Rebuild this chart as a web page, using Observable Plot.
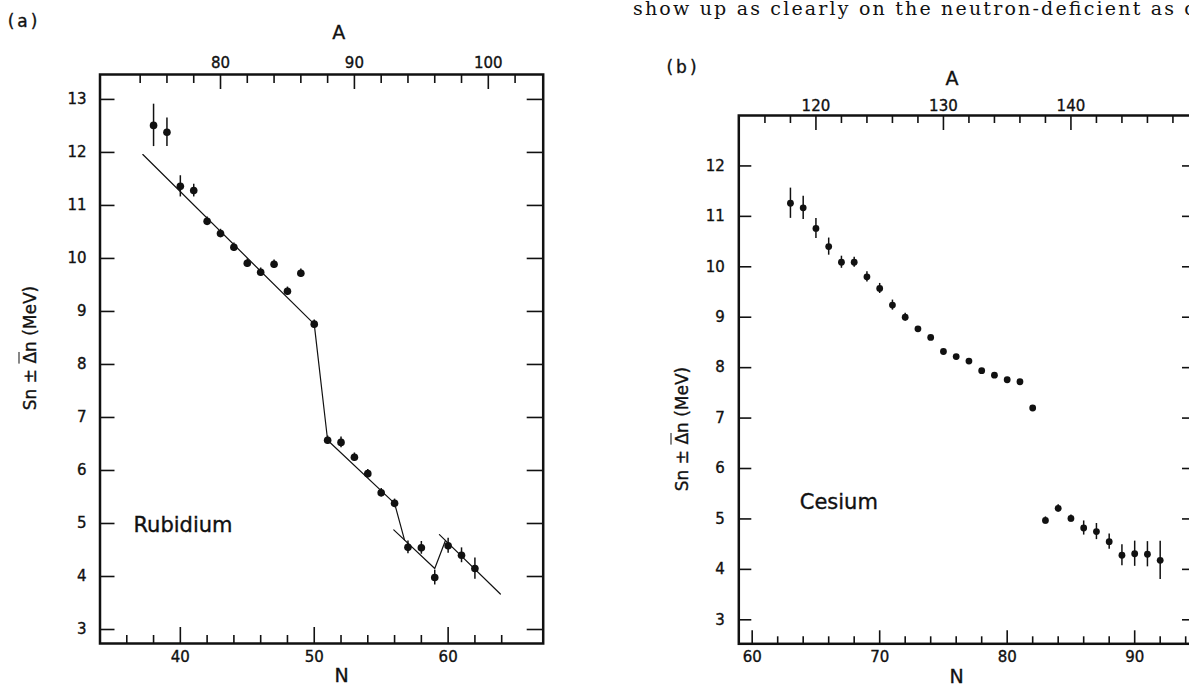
<!DOCTYPE html>
<html>
<head>
<meta charset="utf-8">
<script src="https://cdn.jsdelivr.net/npm/d3@7"></script>
<script src="https://cdn.jsdelivr.net/npm/@observablehq/plot@0.6"></script>
<style>
  html, body { margin: 0; padding: 0; background: #fff; }
  #page { position: relative; width: 1189px; height: 686px; overflow: hidden; background: #fff;
          font-family: "DejaVu Sans", sans-serif; color: #111; }
  #page svg.plot text { stroke: #111; stroke-width: 0.35px; }
  .lbl { position: absolute; white-space: nowrap; line-height: 1; transform: translate(-50%, -50%);
         -webkit-text-stroke: 0.35px #111; }
  .rot { transform: translate(-50%, -50%) rotate(-90deg); }
  .panel { position: absolute; top: 0; }
  .ov { text-decoration: overline; }
</style>
</head>
<body>
<div id="page"></div>
<script>
// ---- Rubidium (Z = 37): separation energies vs neutron number ----
const rbZ = 37;
const rbN   = [38, 39, 40, 41, 42, 43, 44, 45, 46, 47, 48, 49, 50, 51, 52, 53, 54, 55, 56, 57, 58, 59, 60, 61, 62];
const rbSn  = [12.51, 12.38, 11.36, 11.28, 10.70, 10.47, 10.21, 9.91, 9.74, 9.89, 9.38, 9.72, 8.76,
               6.57, 6.53, 6.25, 5.94, 5.58, 5.38, 4.55, 4.54, 3.98, 4.58, 4.40, 4.15];
const rbErr = [0.40, 0.27, 0.20, 0.12, 0.08, 0.08, 0.08, 0.08, 0.08, 0.08, 0.08, 0.08, 0.08,
               0.08, 0.10, 0.08, 0.08, 0.08, 0.08, 0.12, 0.12, 0.14, 0.14, 0.14, 0.20];

// guide lines drawn through the rubidium points (N, MeV)
const rbLineMain  = [[37.2, 11.96], [50, 8.76], [51, 6.57], [56, 5.38], [56.74, 4.69]];
const rbLineMid   = [[55.94, 4.88], [59, 4.15], [59.8, 4.68]];
const rbLineTail  = [[59.35, 4.79], [63.9, 3.67]];

// ---- Cesium (Z = 55) ----
const csZ = 55;
const csN   = [63, 64, 65, 66, 67, 68, 69, 70, 71, 72, 73, 74, 75, 76, 77, 78, 79, 80, 81, 82,
               83, 84, 85, 86, 87, 88, 89, 90, 91, 92];
const csSn  = [11.26, 11.17, 10.76, 10.40, 10.09, 10.09, 9.80, 9.57, 9.24, 9.00, 8.77, 8.60, 8.32, 8.22,
               8.13, 7.94, 7.85, 7.76, 7.72, 7.20, 4.97, 5.21, 5.01, 4.82, 4.75, 4.55, 4.28, 4.31, 4.30, 4.18];
const csErr = [0.30, 0.23, 0.20, 0.17, 0.12, 0.10, 0.10, 0.10, 0.10, 0.08, 0, 0, 0, 0,
               0, 0, 0, 0, 0, 0, 0.07, 0.07, 0.07, 0.14, 0.16, 0.15, 0.21, 0.25, 0.25, 0.38];

// ---- tick values ----
const rbYTicks   = [3, 4, 5, 6, 7, 8, 9, 10, 11, 12, 13];
const rbNMajor   = [40, 50, 60];
const rbNMinor   = [36, 38, 42, 44, 46, 48, 52, 54, 56, 58, 62, 64];
const rbAMajor   = [80, 90, 100];
const rbAMinor   = [74, 76, 78, 82, 84, 86, 88, 92, 94, 96, 98, 102];

const csYTicks   = [3, 4, 5, 6, 7, 8, 9, 10, 11, 12];
const csNMajor   = [60, 70, 80, 90];
const csNMinor   = [62, 64, 66, 68, 72, 74, 76, 78, 82, 84, 86, 88, 92, 94];
const csAMajor   = [120, 130, 140];
const csAMinor   = [116, 118, 122, 124, 126, 128, 132, 134, 136, 138, 142, 144, 146, 148];

const FONT = "DejaVu Sans, sans-serif";

function panel(cfg) {
  const iw = cfg.width - cfg.marginLeft - cfg.marginRight;
  const ih = cfg.height - cfg.marginTop - cfg.marginBottom;
  const rows = cfg.n.map((n, i) => ({n, sn: cfg.sn[i], err: cfg.err[i]}));
  const toN = a => a - cfg.Z;
  const plot = Plot.plot({
    width: cfg.width,
    height: cfg.height,
    marginLeft: cfg.marginLeft,
    marginRight: cfg.marginRight,
    marginTop: cfg.marginTop,
    marginBottom: cfg.marginBottom,
    x: {domain: cfg.xDomain},
    y: {domain: cfg.yDomain},
    style: {fontFamily: FONT, fontSize: "15px", color: "#111", background: "transparent", overflow: "visible"},
    marks: [
      // inward ticks on all four sides
      Plot.tickY(cfg.yTicks, {y: d => d, insetRight: iw - cfg.tick.left, strokeWidth: 1.6, stroke: "#111"}),
      Plot.tickY(cfg.yTicks, {y: d => d, insetLeft: iw - cfg.tick.right, strokeWidth: 1.6, stroke: "#111"}),
      Plot.tickX(cfg.nMajor, {x: d => d, insetTop: ih - cfg.tick.bottomMajor, strokeWidth: 1.6, stroke: "#111"}),
      Plot.tickX(cfg.nMinor, {x: d => d, insetTop: ih - cfg.tick.bottomMinor, strokeWidth: 1.6, stroke: "#111"}),
      Plot.tickX(cfg.aMajor.map(toN), {x: d => d, insetBottom: ih - cfg.tick.topMajor, strokeWidth: 1.6, stroke: "#111"}),
      Plot.tickX(cfg.aMinor.map(toN), {x: d => d, insetBottom: ih - cfg.tick.topMinor, strokeWidth: 1.6, stroke: "#111"}),
      Plot.axisY({anchor: "left", ticks: cfg.yTicks, tickSize: 0, tickPadding: cfg.pad.left, label: null, fill: "#111"}),
      Plot.axisX({anchor: "bottom", ticks: cfg.nMajor, tickSize: 0, tickPadding: cfg.pad.bottom, label: null, fill: "#111"}),
      Plot.axisX({anchor: "top", ticks: cfg.aMajor.map(toN), tickFormat: d => d + cfg.Z, tickSize: 0,
                  tickPadding: cfg.pad.top, label: null, fill: "#111"}),
      ...cfg.extra,
      // error bars and points
      Plot.ruleX(rows.filter(d => d.err > 0), {x: "n", y1: d => d.sn - d.err, y2: d => d.sn + d.err,
                                               strokeWidth: 1.5, stroke: "#111"}),
      Plot.dot(rows, {x: "n", y: "sn", r: cfg.r, fill: "#111", stroke: "none"}),
      Plot.text([cfg.name], {x: cfg.nameAt[0], y: cfg.nameAt[1], textAnchor: "start", lineAnchor: "bottom",
                             fontSize: 21, fill: "#111"}),
      Plot.frame({strokeWidth: 2.5, stroke: "#111"})
    ]
  });
  plot.classList.add("plot");
  return plot;
}

const lineMark = pts => Plot.line(pts, {x: d => d[0], y: d => d[1], stroke: "#111", strokeWidth: 1.2});

const rbPlot = panel({
  Z: rbZ, n: rbN, sn: rbSn, err: rbErr,
  width: 600, height: 686, marginLeft: 99.5, marginRight: 57.3, marginTop: 74, marginBottom: 43,
  xDomain: [34, 67.1], yDomain: [2.736, 13.47],
  yTicks: rbYTicks, nMajor: rbNMajor, nMinor: rbNMinor, aMajor: rbAMajor, aMinor: rbAMinor,
  tick: {left: 15, right: 16, bottomMajor: 16, bottomMinor: 8, topMajor: 15, topMinor: 9},
  pad: {left: 13.5, bottom: 8, top: 7},
  r: 3.8,
  name: "Rubidium", nameAt: [36.5, 4.84],
  extra: [lineMark(rbLineMain), lineMark(rbLineMid), lineMark(rbLineTail)]
});

const csPlot = panel({
  Z: csZ, n: csN, sn: csSn, err: csErr,
  width: 600, height: 686, marginLeft: 138.3, marginRight: 5, marginTop: 115, marginBottom: 42.7,
  xDomain: [58.95, 94.77], yDomain: [2.524, 13.0],
  yTicks: csYTicks, nMajor: csNMajor, nMinor: csNMinor, aMajor: csAMajor, aMinor: csAMinor,
  tick: {left: 13, right: 13, bottomMajor: 13, bottomMinor: 7, topMajor: 15, topMinor: 8},
  pad: {left: 14, bottom: 8, top: 5},
  r: 3.4,
  name: "Cesium", nameAt: [63.73, 5.20],
  extra: []
});

const page = document.getElementById("page");

function place(el, left) {
  el.classList.add("panel");
  el.style.left = left + "px";
  page.appendChild(el);
}
place(rbPlot, 0);
place(csPlot, 600);

function label(html, cx, cy, size, extraClass, style) {
  const d = document.createElement("div");
  d.className = "lbl" + (extraClass ? " " + extraClass : "");
  d.innerHTML = html;
  d.style.left = cx + "px";
  d.style.top = cy + "px";
  d.style.fontSize = size + "px";
  if (style) Object.assign(d.style, style);
  page.appendChild(d);
}

const yTitle = 'Sn ± <span class="ov">Δ</span>n (MeV)';
label("(a)", 24, 21, 17, "", {letterSpacing: "3px"});
label("A", 338.7, 31.7, 19);
label("N", 341.7, 675, 19);
label(yTitle, 30, 348, 17, "rot");

label("(b)", 683, 67, 17, "", {letterSpacing: "3px"});
label("A", 952, 77.5, 19);
label("N", 956.7, 676, 19);
label(yTitle, 682, 429, 17, "rot");

// running text of the surrounding page, cut at the right edge
const ns = "http://www.w3.org/2000/svg";
const txtSvg = document.createElementNS(ns, "svg");
txtSvg.setAttribute("width", 700);
txtSvg.setAttribute("height", 24);
txtSvg.style.position = "absolute";
txtSvg.style.left = "630px";
txtSvg.style.top = "0px";
const t = document.createElementNS(ns, "text");
t.setAttribute("x", 3);
t.setAttribute("y", 15);
t.setAttribute("font-family", "DejaVu Serif, serif");
t.setAttribute("font-size", 19);
t.setAttribute("fill", "#111");
t.setAttribute("textLength", 562);
t.setAttribute("lengthAdjust", "spacing");
t.textContent = "show up as clearly on the neutron-deficient as c";
txtSvg.appendChild(t);
page.appendChild(txtSvg);
</script>
</body>
</html>
